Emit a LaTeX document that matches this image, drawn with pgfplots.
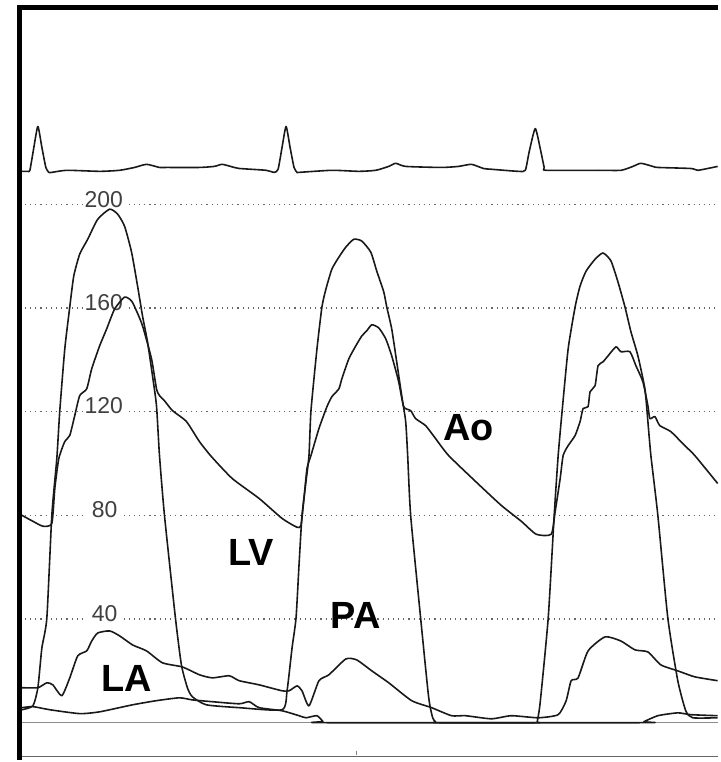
\documentclass[border=0pt]{standalone}
\usepackage{pgfplots}
\pgfplotsset{compat=1.18}
\usepackage{fontspec}
\setmainfont{Liberation Sans}

\tikzset{
  trace/.style={black!90, line width=0.8pt, line join=round, smooth, tension=0.35},
  ticklab/.style={fill=white, text=black!75, inner sep=1pt, minimum width=19pt,
    font=\fontsize{11.5}{11.5}\selectfont},
  curvelab/.style={font=\fontsize{19}{19}\selectfont\bfseries, inner sep=0pt},
}

\begin{document}
\begin{tikzpicture}
\begin{axis}[
    width=360pt, height=381pt, scale only axis,
    xmin=0, xmax=720,
    ymin=-14.2, ymax=278.8,
    axis line style={draw=none},
    xtick=\empty, ytick=\empty,
    clip=false,
]

% frame and reference lines
\draw[black!60, dotted, line width=0.6pt] (axis cs:25,200) -- (axis cs:720,200);
\draw[black!60, dotted, line width=0.6pt] (axis cs:25,160) -- (axis cs:720,160);
\draw[black!60, dotted, line width=0.6pt] (axis cs:25,120) -- (axis cs:720,120);
\draw[black!60, dotted, line width=0.6pt] (axis cs:25,80) -- (axis cs:720,80);
\draw[black!60, dotted, line width=0.6pt] (axis cs:25,40) -- (axis cs:720,40);
\draw[black!45, line width=0.6pt] (axis cs:22,0) -- (axis cs:720,0);
\draw[black!60, line width=0.6pt] (axis cs:22,-13.1) -- (axis cs:720,-13.1);
\draw[black!50, line width=0.5pt] (axis cs:358,-10.8) -- (axis cs:358,-12.6);
\draw[black, line width=2.5pt] (axis cs:19.5,-14.2) -- (axis cs:19.5,276.0) -- (axis cs:720,276.0);

% scale labels
\node[ticklab] at (axis cs:104,201.9) {200};
\node[ticklab] at (axis cs:104,162.1) {160};
\node[ticklab] at (axis cs:104,122.2) {120};
\node[ticklab] at (axis cs:105,82.2) {80};
\node[ticklab] at (axis cs:105,42.2) {40};

% ECG
\addplot[trace] coordinates {
(22,212.7) (28,212.7) (30,213.1) (34,222.0) (38,230.0) (42,222.0) (46,214.2)
(49,212.3) (52,212.3) (67,213.1) (100,212.7) (120,213.1) (135,214.2) (147,215.4)
(160,214.2) (167,214.2) (200,214.2) (215,214.6) (223,215.4) (235,214.2) (240,213.8)
(267,213.1) (275,212.3) (279,213.5) (283,222.0) (287,230.0) (291,222.0) (295,214.2)
(298,212.3) (300,212.3) (333,213.1) (360,212.7) (377,213.1) (390,214.6) (397,215.8)
(407,214.6) (443,214.2) (460,214.6) (473,215.4) (485,213.8) (493,213.5) (520,212.7)
(527,213.1) (531,220.4) (537,229.2) (542,221.5) (546,214.2) (548,213.1) (600,213.1)
(623,213.1) (635,214.6) (643,215.8) (655,214.6) (660,214.2) (693,213.8) (700,213.1)
(710,213.8) (720,214.6)
};

% LV
\addplot[trace] coordinates {
(22,5.0) (33,6.5) (38,13.5) (42,28.8) (47,40.4) (52,80.0) (57,101.9) (60,120.4)
(65,144.2) (70,160.4) (74,172.3) (80,180.8) (88,186.5) (98,194.2) (110,198.1)
(118,196.2) (125,191.5) (132,181.5) (138,168.5) (143,156.9) (148,146.9) (153,133.8)
(157,122.3) (160,103.1) (165,80.0) (176,40.4) (182,22.3) (188,13.5) (193,10.0)
(207,6.9) (240,5.8) (283,5.0) (288,12.3) (293,28.8) (297,40.4) (300,60.8) (303,80.0)
(307,93.1) (310,103.1) (312,120.4) (318,144.2) (323,160.4) (327,167.3) (333,175.0)
(340,179.6) (347,183.5) (355,186.5) (363,185.8) (372,181.5) (378,174.2) (385,166.2)
(388,160.4) (393,151.9) (398,139.2) (403,126.2) (407,116.2) (409,103.1) (412,80.0)
(422,40.4) (430,10.0) (434,2.0) (437,0.3) (440,0) (537,0) (539,0.5) (542,8.0)
(550,40.4) (556,80.0) (560,103.1) (564,120.4)
(570,144.2) (577,160.4) (582,168.5) (588,174.2) (597,178.8) (605,181.2) (613,178.1)
(620,170.0) (627,160.4) (633,150.8) (640,141.5) (647,128.8) (650,116.2) (653,103.1)
(660,80.0) (670,40.4) (680,16.2) (688,4.6) (695,1.9) (720,1.9)
};

% Ao
\addplot[trace] coordinates {
(22,80.0) (33,77.7) (43,75.8) (52,76.9) (55,90.4) (59,101.9) (65,108.5) (70,110.8)
(75,118.5) (80,126.2) (87,128.8) (92,136.5) (100,145.4) (107,151.9) (115,159.6)
(125,164.2) (132,162.7) (137,158.8) (143,153.1) (152,140.4) (157,128.8) (160,126.2)
(165,124.2) (173,120.4) (187,116.2) (200,108.5) (212,102.7) (233,94.2) (260,86.5)
(283,78.8) (298,75.4) (302,76.2) (305,86.5) (308,98.1) (312,103.1) (320,113.5)
(328,121.9) (333,125.8) (340,128.8) (343,132.7) (350,140.4) (357,145.4) (363,149.2)
(368,151.2) (373,153.5) (380,152.3) (387,148.1) (393,141.5) (400,131.5) (405,121.9)
(412,120.4) (417,117.3) (427,114.6) (437,109.6) (450,103.1) (477,93.1) (503,83.8)
(523,77.7) (538,72.7) (553,72.7) (557,81.5) (562,94.2) (565,103.1) (570,106.9)
(577,110.8) (582,116.2) (585,121.2) (590,121.9) (592,127.7) (597,130.0) (600,137.7)
(605,139.2) (610,141.5) (618,145.0) (623,143.1) (632,143.1) (638,137.7) (645,131.5)
(650,122.3) (652,117.3) (657,118.1) (662,114.6) (673,112.3) (687,106.9) (697,103.1)
(720,92.3)
};

% PA
\addplot[trace] coordinates {
(22,13.5) (38,13.5) (47,15.4) (53,14.6) (62,10.4) (70,17.3) (78,25.8) (87,27.7)
(92,31.5) (98,34.6) (110,35.4) (120,33.5) (133,30.0) (147,27.7) (163,23.1)
(183,21.5) (200,18.5) (213,17.3) (230,18.1) (240,16.2) (260,14.6) (283,12.3)
(290,12.3) (298,14.2) (303,12.3) (310,6.5) (320,16.2) (330,18.5) (347,24.6)
(358,24.2) (373,20.0) (390,15.4) (413,8.5) (433,5.8) (453,2.7) (467,2.7) (493,1.5)
(513,2.7) (540,1.9) (560,3.1) (568,8.5) (573,16.2) (580,17.3) (590,27.7) (607,33.1)
(623,31.5) (637,28.1) (650,27.3) (663,22.3) (680,20.0) (697,17.7) (720,16.2)
};

% LA
\addplot[trace] coordinates {
(22,5.8) (33,6.2) (50,5.0) (80,3.5) (100,4.2) (133,6.9) (157,8.5) (180,9.6)
(193,8.8) (213,8.1) (240,7.3) (250,8.1) (260,5.8) (283,4.6) (300,2.7) (307,1.9)
(318,2.7) (324,0.5) (327,0) (643,0) (646,0.4) (660,2.7) (680,3.8) (693,3.1) (720,2.7)
};

% curve names
\node[curvelab] at (axis cs:470,113.8) {Ao};
\node[curvelab] at (axis cs:252,65.8) {LV};
\node[curvelab] at (axis cs:357,41.5) {PA};
\node[curvelab] at (axis cs:127,16.9) {LA};

\end{axis}
\end{tikzpicture}
\end{document}
